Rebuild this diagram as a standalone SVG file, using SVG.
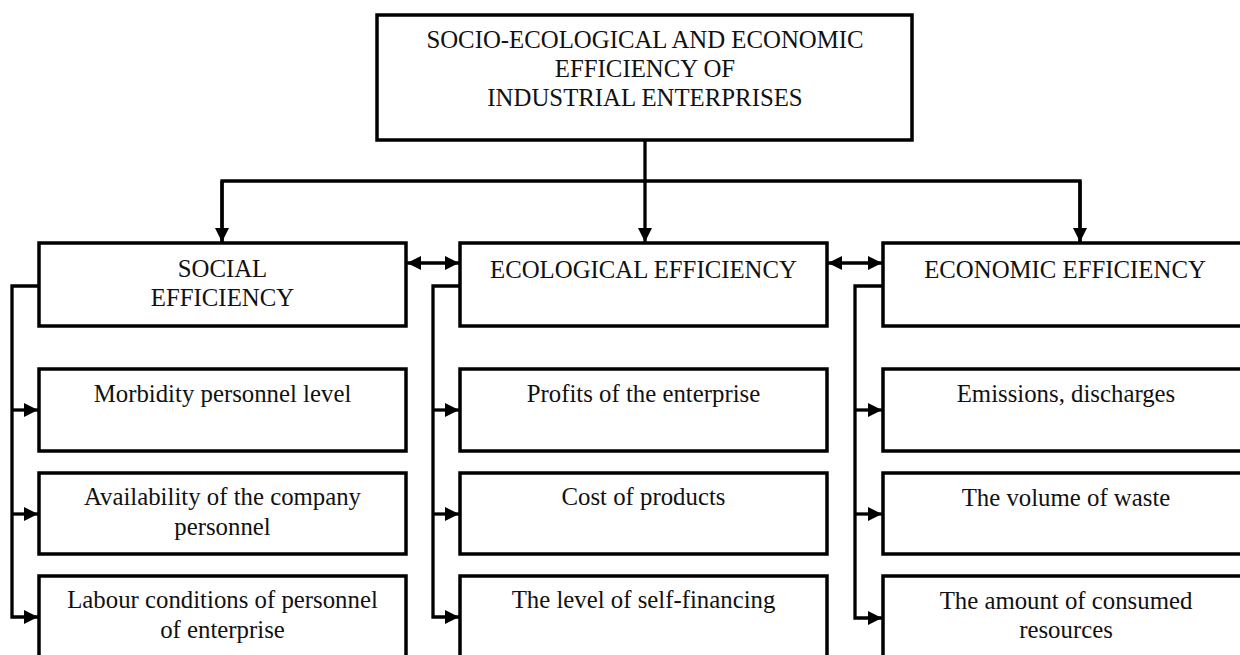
<svg xmlns="http://www.w3.org/2000/svg" width="1240" height="655" viewBox="0 0 1240 655">
<defs>
<style>
.box{fill:#fff;stroke:#000;stroke-width:3.5}
.t{font-family:"Liberation Serif","Times New Roman",serif;font-size:24.8px;fill:#111;text-anchor:middle}
.c{fill:none;stroke:#000;stroke-width:3.3}
</style>
<marker id="ah" markerUnits="userSpaceOnUse" markerWidth="14" markerHeight="14" refX="14" refY="7" orient="auto-start-reverse">
<path d="M0,0 L14,7 L0,14 z" fill="#000"/>
</marker>
</defs>
<rect width="1240" height="655" fill="#fff"/>
<g id="connectors">
<path class="c" d="M645,140 V242" marker-end="url(#ah)"/>
<path class="c" d="M222,243 V181 H1080 V243" />
<path class="c" d="M222,181 V242" marker-end="url(#ah)"/>
<path class="c" d="M1080,181 V242" marker-end="url(#ah)"/>
<path class="c" d="M407,263 H459" marker-start="url(#ah)" marker-end="url(#ah)"/>
<path class="c" d="M828,263 H882" marker-start="url(#ah)" marker-end="url(#ah)"/>
<path class="c" d="M39,286 H12 V617 H38" marker-end="url(#ah)"/>
<path class="c" d="M12,410 H38" marker-end="url(#ah)"/>
<path class="c" d="M12,514 H38" marker-end="url(#ah)"/>
<path class="c" d="M460,286 H433 V617 H459" marker-end="url(#ah)"/>
<path class="c" d="M433,410 H459" marker-end="url(#ah)"/>
<path class="c" d="M433,514 H459" marker-end="url(#ah)"/>
<path class="c" d="M883,286 H855 V618 H882" marker-end="url(#ah)"/>
<path class="c" d="M855,410 H882" marker-end="url(#ah)"/>
<path class="c" d="M855,514 H882" marker-end="url(#ah)"/>
</g>
<g id="top"><rect class="box" x="377" y="15" width="535" height="125"/>
<text class="t" x="645" y="48">SOCIO-ECOLOGICAL AND ECONOMIC</text>
<text class="t" x="645" y="77">EFFICIENCY OF</text>
<text class="t" x="645" y="106">INDUSTRIAL ENTERPRISES</text></g>
<g id="social"><rect class="box" x="39" y="243" width="367" height="83"/>
<text class="t" x="222.5" y="277">SOCIAL</text>
<text class="t" x="222.5" y="306">EFFICIENCY</text></g>
<g id="ecological"><rect class="box" x="460" y="243" width="367" height="83"/>
<text class="t" x="643.5" y="278">ECOLOGICAL EFFICIENCY</text></g>
<g id="economic"><rect class="box" x="883" y="243" width="367" height="83"/>
<text class="t" x="1065" y="278">ECONOMIC EFFICIENCY</text></g>
<g id="s1"><rect class="box" x="39" y="369" width="367" height="82"/>
<text class="t" x="222.5" y="402">Morbidity personnel level</text></g>
<g id="s2"><rect class="box" x="39" y="473" width="367" height="81"/>
<text class="t" x="222.5" y="505">Availability of the company</text>
<text class="t" x="222.5" y="535">personnel</text></g>
<g id="s3"><rect class="box" x="39" y="576" width="367" height="82"/>
<text class="t" x="222.5" y="608">Labour conditions of personnel</text>
<text class="t" x="222.5" y="638">of enterprise</text></g>
<g id="e1"><rect class="box" x="460" y="369" width="367" height="82"/>
<text class="t" x="643.5" y="402">Profits of the enterprise</text></g>
<g id="e2"><rect class="box" x="460" y="473" width="367" height="81"/>
<text class="t" x="643.5" y="505">Cost of products</text></g>
<g id="e3"><rect class="box" x="460" y="576" width="367" height="82"/>
<text class="t" x="643.5" y="608">The level of self-financing</text></g>
<g id="n1"><rect class="box" x="883" y="369" width="367" height="82"/>
<text class="t" x="1066" y="402">Emissions, discharges</text></g>
<g id="n2"><rect class="box" x="883" y="473" width="367" height="81"/>
<text class="t" x="1066" y="506">The volume of waste</text></g>
<g id="n3"><rect class="box" x="883" y="576" width="367" height="82"/>
<text class="t" x="1066" y="609">The amount of consumed</text>
<text class="t" x="1066" y="638">resources</text></g>
</svg>
